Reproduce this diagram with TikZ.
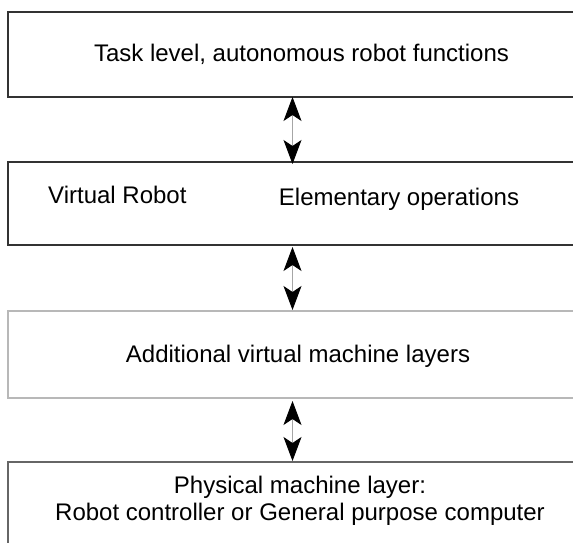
\documentclass[tikz,border=0pt]{standalone}
\usepackage{fontspec}
\setmainfont{Liberation Sans}
\usetikzlibrary{arrows.meta}
\begin{document}
\begin{tikzpicture}[x=1pt,y=-1pt,
  >={Stealth[length=24pt,width=18pt,inset=6pt,color=black]},
  layerbox/.style={draw=#1, line width=1.4pt, minimum width=590pt,
    inner sep=0pt, outer sep=0pt, anchor=north west},
  caption/.style={font=\fontsize{24}{27}\selectfont, anchor=base,
    inner sep=0pt, align=center},
  link/.style={draw=black!35, line width=0.9pt, <->}]
  \useasboundingbox (0,0) rectangle (573,543);
  \clip (0,0) rectangle (573,543);
  \fill[white] (0,0) rectangle (573,543);

  % the four layers, top to bottom
  \node[layerbox=black!80, minimum height=85pt] (task) at (8,12) {};
  \node[layerbox=black!80, minimum height=83pt] (virt) at (8,162) {};
  \node[layerbox=black!28, minimum height=87pt] (addl) at (8,311) {};
  \node[layerbox=black!60, minimum height=86pt] (phys) at (8,462) {};

  % layer texts
  \node[caption] (ttask) at (301.5,62) {Task level, autonomous robot functions};
  \node[caption, anchor=base west] (tvr) at (48,203) {Virtual Robot};
  \node[caption] (telem) at (399,205) {Elementary operations};
  \node[caption] (taddl) at (298,362) {Additional virtual machine layers};
  \node[caption] (tphys1) at (300,493) {Physical machine layer:};
  \node[caption] (tphys2) at (300,520) {Robot controller or General purpose computer};

  % two-way links between neighbouring layers
  \coordinate (ax) at (292.5,0);
  \draw[link] (task.south -| ax) -- ([yshift=-2pt]virt.north -| ax);
  \draw[link] ([yshift=-2pt]virt.south -| ax) -- ([yshift=1pt]addl.north -| ax);
  \draw[link] ([yshift=-3pt]addl.south -| ax) -- ([yshift=1pt]phys.north -| ax);
\end{tikzpicture}
\end{document}
